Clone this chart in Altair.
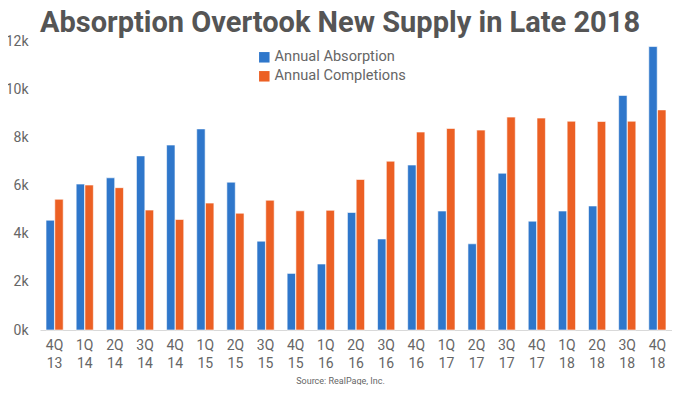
import altair as alt
import pandas as pd

quarters = ["4Q 13", "1Q 14", "2Q 14", "3Q 14", "4Q 14", "1Q 15", "2Q 15", "3Q 15", "4Q 15",
            "1Q 16", "2Q 16", "3Q 16", "4Q 16", "1Q 17", "2Q 17", "3Q 17", "4Q 17",
            "1Q 18", "2Q 18", "3Q 18", "4Q 18"]
absorption = [4560, 6060, 6320, 7230, 7680, 8350, 6140, 3690, 2350, 2740, 4880, 3780, 6850,
              4940, 3580, 6510, 4520, 4940, 5150, 9740, 11770]
completions = [5430, 6020, 5910, 4980, 4590, 5270, 4850, 5390, 4950, 4970, 6250, 7010, 8220,
               8370, 8300, 8840, 8800, 8670, 8660, 8670, 9140]
series = ["Annual Absorption", "Annual Completions"]
colors = ["#2F77CB", "#EC6024"]

rows = []
for i, q in enumerate(quarters):
    rows.append({"q": q, "series": series[0], "value": absorption[i]})
    rows.append({"q": q, "series": series[1], "value": completions[i]})
df = pd.DataFrame(rows)

font = "Roboto"

chart = alt.Chart(df).mark_bar(stroke="white", strokeWidth=0.6).encode(
    x=alt.X("q:N", sort=quarters,
            scale=alt.Scale(paddingInner=0.43, paddingOuter=0.2),
            axis=alt.Axis(title="Source: RealPage, Inc.", titleFontSize=9, titleFontWeight="normal",
                          titleColor="#666666", titleFont=font, titleX=300, titleY=50,
                          titleBaseline="middle",
                          labelAngle=0, labelExpr="split(datum.label, ' ')",
                          labelLineHeight=18, labelFontSize=14, labelColor="#666666",
                          labelFont=font, labelPadding=8, ticks=False,
                          domainColor="#D9D9D9", domainWidth=1)),
    xOffset=alt.XOffset("series:N", sort=series, scale=alt.Scale(paddingInner=0.04)),
    y=alt.Y("value:Q", scale=alt.Scale(domain=[0, 12000]),
            axis=alt.Axis(title=None, values=[0, 2000, 4000, 6000, 8000, 10000, 12000],
                          labelExpr="datum.value/1000 + 'k'", grid=False, domain=False,
                          ticks=False, labelFontSize=14, labelColor="#666666", labelFont=font,
                          labelPadding=12)),
    color=alt.Color("series:N", sort=series,
                    scale=alt.Scale(domain=series, range=colors),
                    legend=alt.Legend(title=None, orient="none", legendX=217, legendY=9,
                                      symbolType="square", symbolSize=110, symbolStrokeWidth=0,
                                      labelFontSize=14.6, labelColor="#666666", labelFont=font,
                                      labelOffset=3, rowPadding=4, symbolOffset=0)),
).properties(
    width=632, height=289,
    title=alt.TitleParams("Absorption Overtook New Supply in Late 2018", fontSize=29,
                          font=font, fontWeight="bold", color="#555555", anchor="middle",
                          dx=-16, dy=9, offset=5),
    padding={"left": 32, "top": 33, "right": 0, "bottom": 55},
    autosize=alt.AutoSizeParams(type="none"),
).configure_view(stroke=None)

chart.save("out.html", embed_options={"renderer": "svg", "actions": False})
